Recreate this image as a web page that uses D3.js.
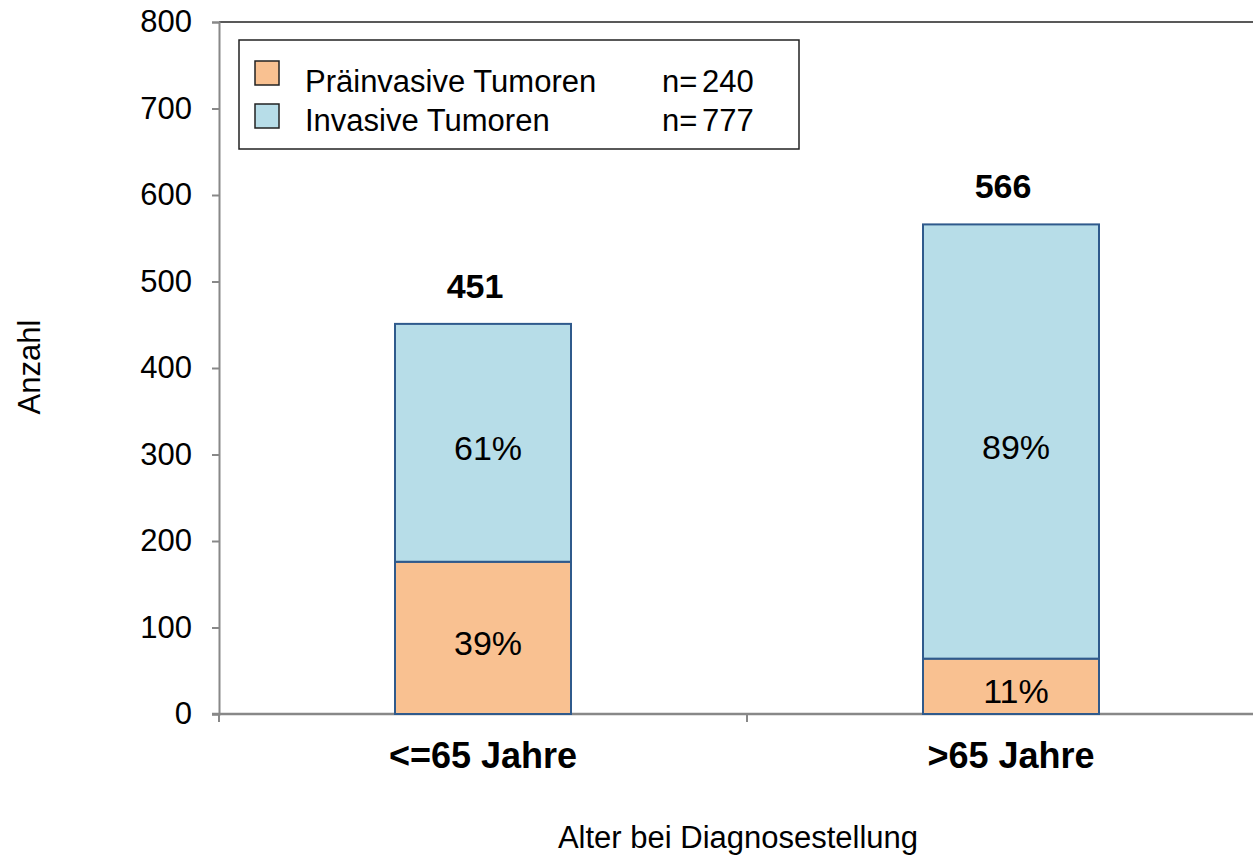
<!DOCTYPE html>
<html><head><meta charset="utf-8">
<script src="https://cdn.jsdelivr.net/npm/d3@7"></script>
<style>body{margin:0;background:#fff;} svg{display:block;font-family:"Liberation Sans",Arial,sans-serif;}</style>
</head><body>
<svg id="c" width="1253" height="858"></svg>
<script>
const categories = ["<=65 Jahre", ">65 Jahre"];
const praeinvasiv = [176, 64];
const invasiv = [275, 502];
const totals = [451, 566];
const pctPrae = ["39%", "11%"];
const pctInv = ["61%", "89%"];
const seriesNames = ["Präinvasive Tumoren", "Invasive Tumoren"];
const seriesN = [240, 777];
const yTicks = [0, 100, 200, 300, 400, 500, 600, 700, 800];
const colors = ["#F9C191", "#B7DDE8"];

const svg = d3.select("#c");
const y = d3.scaleLinear().domain([0, 800]).range([714, 22]);
const x = d3.scaleBand().domain(categories).range([219, 1275]).paddingInner(2/3).paddingOuter(1/3);

// top border
svg.append("line").attr("x1", 219).attr("x2", 1253).attr("y1", 22).attr("y2", 22).attr("stroke", "#222").attr("stroke-width", 1.5);

// y axis
const ya = svg.append("g").attr("transform", "translate(219,0)")
  .call(d3.axisLeft(y).tickValues(yTicks).tickSize(7).tickPadding(20));
ya.select(".domain").attr("stroke", "#888").attr("stroke-width", 2);
ya.selectAll(".tick line").attr("stroke", "#888").attr("stroke-width", 2);
ya.selectAll(".tick text").attr("font-size", 31).attr("fill", "#000").attr("font-family", "Liberation Sans, Arial, sans-serif");

// x axis line + boundary ticks
svg.append("line").attr("x1", 212).attr("x2", 1253).attr("y1", y(0)).attr("y2", y(0)).attr("stroke", "#888").attr("stroke-width", 2.5);
const bounds = [x.range()[0], (x(categories[0]) + x.bandwidth() + x(categories[1])) / 2];
svg.selectAll(".xt").data(bounds).join("line").attr("x1", d => d).attr("x2", d => d)
  .attr("y1", y(0)).attr("y2", y(0) + 8).attr("stroke", "#888").attr("stroke-width", 2);

// bars
const stroke = "#2F5A8C";
categories.forEach((c, i) => {
  svg.append("rect").attr("x", x(c)).attr("width", x.bandwidth())
    .attr("y", y(praeinvasiv[i])).attr("height", y(0) - y(praeinvasiv[i]))
    .attr("fill", colors[0]).attr("stroke", stroke).attr("stroke-width", 2);
  svg.append("rect").attr("x", x(c)).attr("width", x.bandwidth())
    .attr("y", y(praeinvasiv[i] + invasiv[i])).attr("height", y(praeinvasiv[i]) - y(praeinvasiv[i] + invasiv[i]))
    .attr("fill", colors[1]).attr("stroke", stroke).attr("stroke-width", 2);
  const cx = x(c) + x.bandwidth() / 2;
  svg.append("text").attr("x", cx + 5).attr("y", (y(0) + y(praeinvasiv[i])) / 2 + 17)
    .attr("text-anchor", "middle").attr("font-size", 34).text(pctPrae[i]);
  svg.append("text").attr("x", cx + 5).attr("y", (y(praeinvasiv[i]) + y(praeinvasiv[i] + invasiv[i])) / 2 + 17)
    .attr("text-anchor", "middle").attr("font-size", 34).text(pctInv[i]);
  svg.append("text").attr("x", cx - 8).attr("y", y(totals[i]) - 26)
    .attr("text-anchor", "middle").attr("font-size", 34).attr("font-weight", "bold").text(totals[i]);
  svg.append("text").attr("x", cx).attr("y", 768)
    .attr("text-anchor", "middle").attr("font-size", 36).attr("font-weight", "bold").text(c);
});

// axis titles
svg.append("text").attr("transform", "translate(40,367) rotate(-90)").attr("text-anchor", "middle")
  .attr("font-size", 31).text("Anzahl");
svg.append("text").attr("x", 738).attr("y", 848).attr("text-anchor", "middle")
  .attr("font-size", 31).text("Alter bei Diagnosestellung");

// legend
const lg = svg.append("g");
lg.append("rect").attr("x", 239).attr("y", 40).attr("width", 560).attr("height", 109)
  .attr("fill", "#fff").attr("stroke", "#222").attr("stroke-width", 1.5);
seriesNames.forEach((s, i) => {
  const base = 92 + i * 39;
  lg.append("rect").attr("x", 255).attr("y", base - 31 + i * 4).attr("width", 24).attr("height", 24)
    .attr("fill", colors[i]).attr("stroke", "#222").attr("stroke-width", 1.5);
  lg.append("text").attr("x", 305).attr("y", base).attr("font-size", 31).text(s);
  lg.append("text").attr("x", 662).attr("y", base).attr("font-size", 31).text("n=");
  lg.append("text").attr("x", 702).attr("y", base).attr("font-size", 31).text(seriesN[i]);
});
</script>
</body></html>
